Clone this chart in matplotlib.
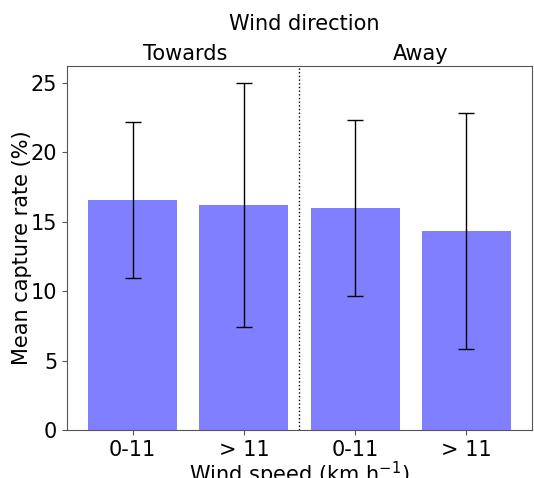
import matplotlib
matplotlib.use("Agg")
import matplotlib.pyplot as plt
import numpy as np

categories = ["0-11", "> 11", "0-11", "> 11"]
means = [16.57, 16.2, 16.0, 14.34]
errors = [5.62, 8.75, 6.33, 8.5]
groups = ["Towards", "Away"]

fs = 15
fig = plt.figure(figsize=(5.34, 4.78), dpi=100)
ax = fig.add_axes([0.1255, 0.100, 0.8705, 0.762])
x = np.arange(len(categories))
ax.bar(x, means, width=0.8, color="blue", alpha=0.5, yerr=errors, capsize=5.5,
       error_kw=dict(ecolor="black", elinewidth=1, capthick=1))
ax.axvline(1.5, color="black", linestyle=":", linewidth=1)
ax.set_xticks(x)
ax.set_xticklabels(categories, fontsize=fs)
ax.tick_params(axis="y", labelsize=fs)
ax.set_ylabel("Mean capture rate (%)", fontsize=fs, labelpad=-1)
ax.set_xlabel("Wind speed (km h$^{-1}$)", fontsize=fs, labelpad=0)
for s in ax.spines.values():
    s.set_color("#555555")
ax.tick_params(colors="#555555", labelcolor="black")
ax.text(0.254, 1.0165, groups[0], transform=ax.transAxes, ha="center", va="baseline", fontsize=fs)
ax.text(0.761, 1.0165, groups[1], transform=ax.transAxes, ha="center", va="baseline", fontsize=fs)
ax.text(0.51, 1.099, "Wind direction", transform=ax.transAxes, ha="center", va="baseline", fontsize=fs)
fig.savefig("out.png", dpi=100)
